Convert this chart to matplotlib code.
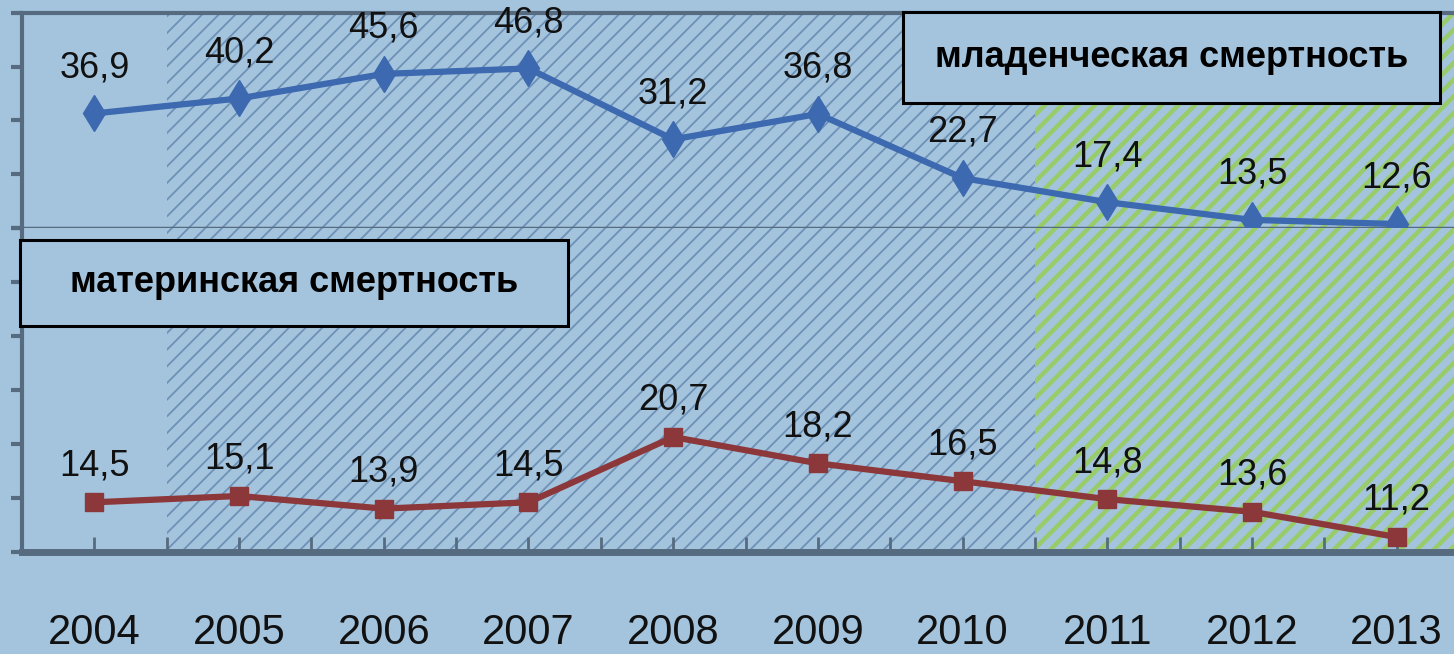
import matplotlib
matplotlib.use("Agg")
import matplotlib.pyplot as plt
from matplotlib.patches import Rectangle

# data
years = ["2004", "2005", "2006", "2007", "2008", "2009", "2010", "2011", "2012", "2013"]
infant = [36.9, 40.2, 45.6, 46.8, 31.2, 36.8, 22.7, 17.4, 13.5, 12.6]
maternal = [14.5, 15.1, 13.9, 14.5, 20.7, 18.2, 16.5, 14.8, 13.6, 11.2]

bg = "#a4c4dd"
spine_c = "#566b7f"
narrow = ["Liberation Sans Narrow", "Liberation Sans", "DejaVu Sans"]

plt.rcParams["hatch.linewidth"] = 1.3

fig = plt.figure(figsize=(14.54, 6.54), dpi=100)
fig.patch.set_facecolor(bg)

left = 22 / 1454
width = 1447 / 1454
ax1 = fig.add_axes([left, (654 - 228) / 654, width, 215 / 654])
ax2 = fig.add_axes([left, (654 - 552) / 654, width, 324 / 654])

x = list(range(len(years)))


def shade(ax):
    ax.set_facecolor(bg)
    ax.axvspan(0.5, 6.5, facecolor=bg, edgecolor="#6d91b6", hatch="//", lw=0, zorder=0)
    g = ax.axvspan(6.5, 9.5, facecolor=bg, edgecolor="#98cc6a", hatch="//", lw=0, zorder=0)
    try:
        g.set_hatch_linewidth(3.2)
    except AttributeError:
        pass
    ax.set_xlim(-0.5, 9.5)
    for s in ax.spines.values():
        s.set_color(spine_c)
    ax.spines["right"].set_visible(False)


shade(ax1)
shade(ax2)

# top panel: infant mortality
ax1.plot(x, infant, color="#3c69af", lw=4.5, marker="d", ms=18, zorder=3)
ax1.set_ylim(11.72, 58.99)
ax1.set_yticks([11.72 + i * (58.99 - 11.72) / 4 for i in range(5)])
ax1.set_yticklabels([])
ax1.set_xticks([])
ax1.spines["left"].set_linewidth(3)
ax1.spines["top"].set_linewidth(3)
ax1.spines["bottom"].set_linewidth(2.5)
ax1.tick_params(axis="y", direction="out", length=8, width=3, color=spine_c)
for xi, v in zip(x, infant):
    ax1.annotate(f"{v:.1f}".replace(".", ","), (xi, v), xytext=(0, 26),
                 textcoords="offset points", ha="center", va="baseline",
                 fontsize=26, family=narrow, color="#111111", zorder=4)

# bottom panel: maternal mortality
ax2.plot(x, maternal, color="#8c373a", lw=4.5, marker="s", ms=13, zorder=3)
ax2.set_ylim(9.78, 40.55)
ax2.set_yticks([9.78 + i * (40.55 - 9.78) / 6 for i in range(7)])
ax2.set_yticklabels([])
ax2.spines["left"].set_linewidth(3)
ax2.spines["top"].set_visible(False)
ax2.spines["bottom"].set_linewidth(5)
ax2.tick_params(axis="y", direction="out", length=8, width=3, color=spine_c)
ax2.set_xticks(x)
ax2.set_xticklabels(years, fontsize=30, family=narrow, color="#111111")
ax2.set_xticks([i + 0.5 for i in range(-1, 10)], minor=True)
ax2.tick_params(axis="x", which="both", direction="in", length=11, width=2,
                color=spine_c, pad=44)
for xi, v in zip(x, maternal):
    ax2.annotate(f"{v:.1f}".replace(".", ","), (xi, v), xytext=(0, 19.5),
                 textcoords="offset points", ha="center", va="baseline",
                 fontsize=26, family=narrow, color="#111111", zorder=4)

# label boxes
for (bx, by, bw, bh, txt) in [(903, 12, 537, 91, "младенческая смертность"),
                              (20, 240, 548, 86, "материнская смертность")]:
    x0 = bx / 1454
    y0 = (654 - by - bh) / 654
    r = Rectangle((x0, y0), bw / 1454, bh / 654, transform=fig.transFigure,
                  facecolor=bg, edgecolor="black", lw=2.2, zorder=10, clip_on=False)
    fig.patches.append(r)
    fig.text(x0 + bw / 1454 / 2, y0 + bh / 654 / 2, txt, ha="center", va="center",
             fontsize=26, fontweight="bold", family=narrow, color="black", zorder=11)

fig.savefig("out.png", dpi=100, facecolor=bg)
